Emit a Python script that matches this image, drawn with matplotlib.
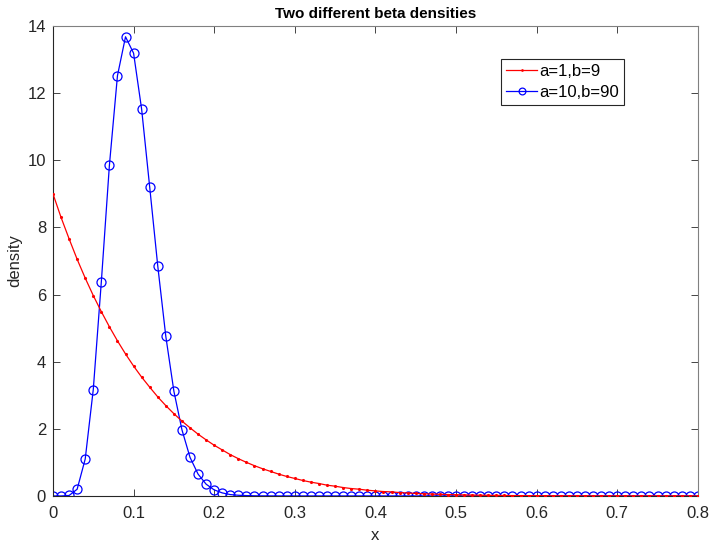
import matplotlib
matplotlib.use("Agg")
import matplotlib.pyplot as plt

plt.rcParams['font.family'] = ['Liberation Sans', 'DejaVu Sans']

x = [i / 100 for i in range(81)]

red_vals = [9.00, 8.30, 7.66, 7.05, 6.49, 5.97, 5.49, 5.04, 4.62, 4.23,
            3.87, 3.54, 3.24, 2.95, 2.69, 2.45, 2.23, 2.03, 1.84, 1.67,
            1.51, 1.37, 1.23, 1.11, 1.00, 0.90, 0.81, 0.73, 0.65, 0.58,
            0.52, 0.46, 0.41, 0.37, 0.32, 0.29, 0.25, 0.22, 0.20, 0.17,
            0.15, 0.13, 0.12, 0.10, 0.087, 0.075, 0.065, 0.056, 0.048, 0.041,
            0.035, 0.030, 0.025, 0.021, 0.018, 0.015, 0.013, 0.010, 0.009, 0.007,
            0.006, 0.005, 0.004, 0.003, 0.003, 0.002, 0.002, 0.001, 0.001, 0.001,
            0.001, 0.0, 0.0, 0.0, 0.0, 0.0, 0.0, 0.0, 0.0, 0.0, 0.0]

blue_vals = [0.0, 0.0, 0.013, 0.20, 1.10, 3.17, 6.38, 9.85, 12.52, 13.68,
             13.19, 11.52, 9.20, 6.85, 4.75, 3.12, 1.97, 1.15, 0.65, 0.35,
             0.18, 0.09, 0.04, 0.02, 0.01, 0.004, 0.002, 0.001, 0.0, 0.0,
             0.0, 0.0, 0.0, 0.0, 0.0, 0.0, 0.0, 0.0, 0.0, 0.0,
             0.0, 0.0, 0.0, 0.0, 0.0, 0.0, 0.0, 0.0, 0.0, 0.0,
             0.0, 0.0, 0.0, 0.0, 0.0, 0.0, 0.0, 0.0, 0.0, 0.0,
             0.0, 0.0, 0.0, 0.0, 0.0, 0.0, 0.0, 0.0, 0.0, 0.0,
             0.0, 0.0, 0.0, 0.0, 0.0, 0.0, 0.0, 0.0, 0.0, 0.0, 0.0]

labels = ['a=1,b=9', 'a=10,b=90']
title = 'Two different beta densities'
xticks = [0, 0.1, 0.2, 0.3, 0.4, 0.5, 0.6, 0.7, 0.8]
yticks = [0, 2, 4, 6, 8, 10, 12, 14]

fig = plt.figure(figsize=(7.11, 5.42), dpi=100)
ax = fig.add_axes([0.0745, 0.085, 0.907, 0.867])

ax.plot(x, red_vals, color='#ff0000', marker='.', markersize=2.5, linewidth=0.9,
        label=labels[0], zorder=3)
ax.plot(x, blue_vals, color='#0000ff', marker='o', markersize=6.5,
        markerfacecolor='none', markeredgewidth=0.9, linewidth=0.9,
        label=labels[1], zorder=2)

ax.set_xlim(0, 0.8)
ax.set_ylim(0, 14)
ax.set_xticks(xticks)
ax.set_xticklabels([('%g' % t) for t in xticks])
ax.set_yticks(yticks)

axcol = '#262626'
for s in ax.spines.values():
    s.set_color('#808080')
    s.set_linewidth(0.8)
ax.spines['bottom'].set_color(axcol)
ax.spines['left'].set_color(axcol)
ax.tick_params(direction='in', length=5, width=0.6, colors=axcol,
               labelsize=12, top=True, right=True)
ax.tick_params(axis='x', pad=7)
ax.tick_params(axis='y', pad=5)
for lbl in ax.get_xticklabels() + ax.get_yticklabels():
    lbl.set_color('#262626')

ax.set_title(title, fontsize=11, fontweight='bold', pad=6)
ax.set_xlabel('x', fontsize=12, color='#262626', labelpad=5)
ax.set_ylabel('density', fontsize=12, color='#262626', labelpad=4)

leg = ax.legend(loc='upper left', bbox_to_anchor=(0.695, 0.93), fontsize=12,
                frameon=True, fancybox=False, framealpha=1, edgecolor='#262626',
                handlelength=1.85, handletextpad=0.15, borderpad=0.3,
                labelspacing=0.35, borderaxespad=0, markerscale=0.75)
leg.get_frame().set_linewidth(0.8)

fig.savefig('out.png', dpi=100)
